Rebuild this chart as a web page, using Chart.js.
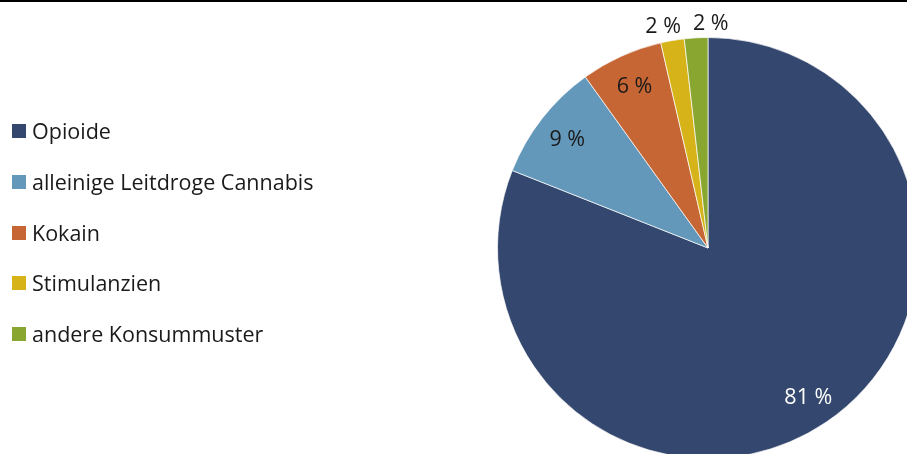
<!DOCTYPE html>
<html>
<head>
<meta charset="utf-8">
<script src="https://cdn.jsdelivr.net/npm/chart.js@4.4.1/dist/chart.umd.min.js"></script>
<style>
  html, body { margin: 0; padding: 0; width: 907px; height: 454px; overflow: hidden; background: #fff; }
  #topline { position: absolute; left: 0; top: 0; width: 907px; height: 2px; background: #000; z-index: 3; }
  #wrap { position: absolute; left: 0; top: 0; width: 1000px; height: 520px; }
  #legend { position: absolute; left: 0; top: 0; z-index: 2; font-family: "Open Sans", sans-serif; font-size: 21.5px; color: #1a1a1a; }
  .li { position: absolute; left: 12px; white-space: nowrap; height: 30px; line-height: 30px; }
  .sw { position: absolute; left: 0; top: 8px; width: 14px; height: 14px; }
  .tx { position: absolute; left: 20px; top: 0; }
</style>
</head>
<body>
<div id="topline"></div>
<div id="wrap"><canvas id="c" width="1000" height="520"></canvas></div>
<div id="legend"></div>
<script>
const categories = ["Opioide", "alleinige Leitdroge Cannabis", "Kokain", "Stimulanzien", "andere Konsummuster"];
const shares = [81.0, 9.1, 6.3, 1.8, 1.8];
const valueLabels = ["81 %", "9 %", "6 %", "2 %", "2 %"];
const colors = ["#34476E", "#6398BA", "#C56634", "#D6B319", "#89A630"];
const labelColors = ["#ffffff", "#1a1a1a", "#1a1a1a", "#1a1a1a", "#1a1a1a"];

// HTML legend
const legendEl = document.getElementById('legend');
categories.forEach((name, i) => {
  const d = document.createElement('div');
  d.className = 'li';
  d.style.top = (131 + i * 50.75 - 15) + 'px';
  d.innerHTML = '<span class="sw" style="background:' + colors[i] + '"></span><span class="tx">' + name + '</span>';
  legendEl.appendChild(d);
});

const sliceLabels = {
  id: 'sliceLabels',
  afterDatasetsDraw(chart) {
    const ctx = chart.ctx;
    const meta = chart.getDatasetMeta(0);
    const total = shares.reduce((a, b) => a + b, 0);
    ctx.save();
    ctx.font = '21.5px "Open Sans", sans-serif';
    ctx.textAlign = 'center';
    ctx.textBaseline = 'alphabetic';
    const capH = ctx.measureText('0123456789').actualBoundingBoxAscent;
    const outside = [];
    meta.data.forEach((arc, i) => {
      const p = arc.getProps(['x', 'y', 'startAngle', 'endAngle', 'outerRadius'], true);
      const mid = (p.startAngle + p.endAngle) / 2;
      const frac = shares[i] / total;
      if (frac < 0.04) {
        const r = p.outerRadius + 16;
        outside.push({ i, x: p.x + Math.cos(mid) * r, y: p.y + Math.sin(mid) * r, w: ctx.measureText(valueLabels[i]).width });
      } else {
        const r = p.outerRadius * 0.848;
        ctx.fillStyle = labelColors[i];
        ctx.fillText(valueLabels[i], p.x + Math.cos(mid) * r, p.y + Math.sin(mid) * r + capH / 2);
      }
    });
    // de-overlap outside labels horizontally
    outside.sort((a, b) => a.x - b.x);
    for (let k = 1; k < outside.length; k++) {
      const a = outside[k - 1], b = outside[k];
      const need = (a.w + b.w) / 2 + 12;
      const deficit = need - (b.x - a.x);
      if (deficit > 0) {
        a.x -= deficit * 0.3;
        b.x += deficit * 0.7;
      }
    }
    outside.forEach(o => {
      ctx.fillStyle = labelColors[o.i];
      ctx.fillText(valueLabels[o.i], o.x, o.y + capH / 2);
    });
    ctx.restore();
  }
};

new Chart(document.getElementById('c'), {
  type: 'pie',
  data: {
    labels: categories,
    datasets: [{
      data: shares,
      backgroundColor: colors,
      borderColor: 'rgba(255,255,255,0.7)',
      borderWidth: 1
    }]
  },
  options: {
    responsive: false,
    animation: false,
    layout: { padding: { left: 497, top: 37, right: 81, bottom: 61 } },
    plugins: {
      legend: { display: false },
      tooltip: { enabled: false }
    }
  },
  plugins: [sliceLabels]
});
</script>
</body>
</html>
